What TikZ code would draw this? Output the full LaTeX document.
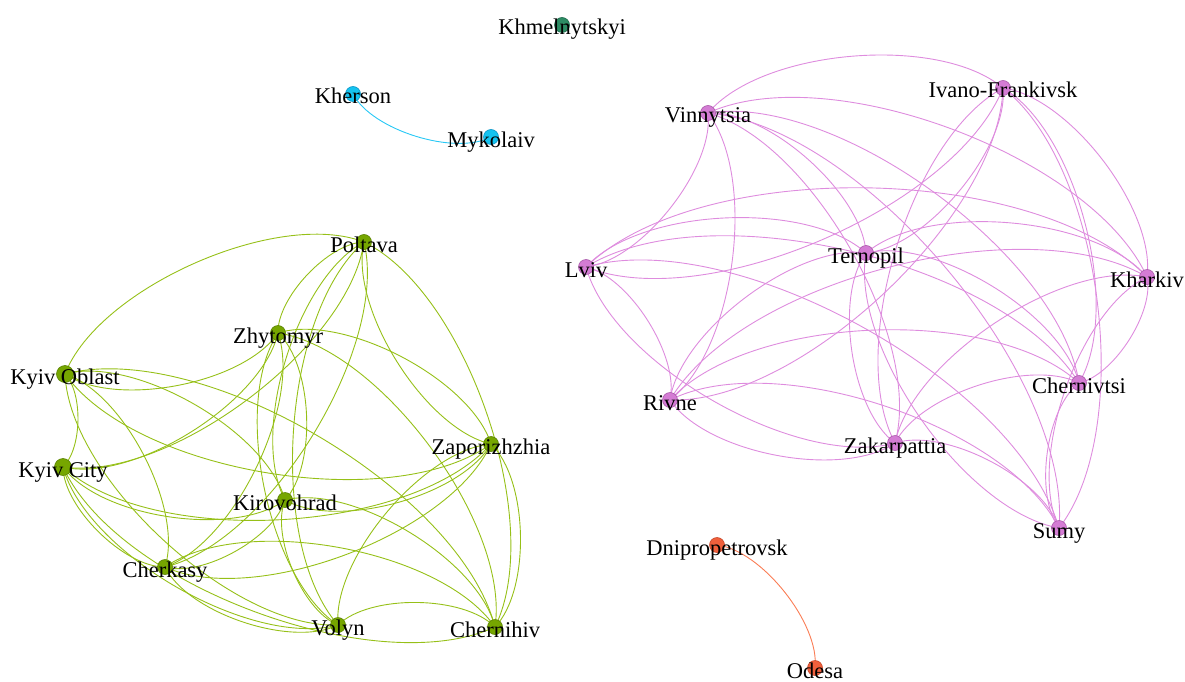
\documentclass[tikz,border=0pt]{standalone}
\usepackage{fontspec}
\setmainfont{Liberation Serif}
\usetikzlibrary{calc}
\pgfdeclarelayer{bg}
\pgfsetlayers{bg,main}
\definecolor{gnode}{RGB}{118,166,0}
\definecolor{gnodeB}{RGB}{90,130,0}
\definecolor{gline}{RGB}{150,192,24}
\definecolor{pnode}{RGB}{212,124,212}
\definecolor{pnodeB}{RGB}{170,90,170}
\definecolor{pline}{RGB}{222,140,222}
\definecolor{cnode}{RGB}{20,195,240}
\definecolor{cnodeB}{RGB}{10,150,200}
\definecolor{cline}{RGB}{40,200,245}
\definecolor{onode}{RGB}{240,96,60}
\definecolor{onodeB}{RGB}{200,70,40}
\definecolor{oline}{RGB}{250,125,85}
\definecolor{tnode}{RGB}{45,140,100}
\definecolor{tnodeB}{RGB}{30,105,75}
\newcommand\gephiedge[3]{\draw[#1] (#2.center) .. controls ($(#2.center)!0.28284!45:(#3.center)$) and ($(#3.center)!0.28284!-45:(#2.center)$) .. (#3.center);}
\begin{document}
\begin{tikzpicture}[x=1pt,y=1pt,
  vtx/.style={circle,inner sep=0pt,minimum size=15pt,line width=0.6pt},
  gv/.style={vtx,fill=gnode,draw=gnodeB},
  pv/.style={vtx,fill=pnode,draw=pnodeB},
  cv/.style={vtx,fill=cnode,draw=cnodeB},
  ov/.style={vtx,fill=onode,draw=onodeB},
  tv/.style={vtx,fill=tnode,draw=tnodeB},
  lbl/.style={anchor=base,inner sep=0pt,font=\fontsize{22.5}{27}\selectfont,text=black},
  ge/.style={gline,line width=0.9pt},
  pe/.style={pline,line width=0.9pt},
  ce/.style={cline,line width=0.9pt},
  oe/.style={oline,line width=0.9pt}]
\useasboundingbox (0,0) rectangle (1185,-682);
% green cluster
\node[gv] (Vo) at (338,-625) {};
\node[gv] (Zh) at (278,-333) {};
\node[gv] (Za) at (491,-444) {};
\node[gv,minimum size=17pt] (KO) at (65,-374) {};
\node[gv] (Ki) at (285,-500) {};
\node[gv] (Po) at (364,-242) {};
\node[gv] (Ck) at (165,-567) {};
\node[gv] (Cn) at (495,-627) {};
\node[gv,minimum size=17pt] (KC) at (63,-467) {};
% purple cluster
\node[pv] (Vi) at (708,-113) {};
\node[pv] (Zk) at (895,-443) {};
\node[pv] (IF) at (1003,-88) {};
\node[pv] (Lv) at (586,-267) {};
\node[pv] (Ri) at (670,-400) {};
\node[pv] (Su) at (1059,-528) {};
\node[pv] (Te) at (866,-253) {};
\node[pv] (Kh) at (1147,-277) {};
\node[pv] (Cv) at (1079,-383) {};
% small clusters
\node[cv] (My) at (491,-137) {};
\node[cv] (Ks) at (353,-94) {};
\node[ov] (Dn) at (717,-545) {};
\node[ov] (Od) at (815,-668) {};
\node[tv] (Km) at (562,-25) {};
% edges
\begin{pgfonlayer}{bg}
\foreach \a [count=\i] in {Vo,Zh,Za,KO,Ki,Po,Ck,Cn,KC}{
  \foreach \b [count=\j] in {Vo,Zh,Za,KO,Ki,Po,Ck,Cn,KC}{
    \ifnum\j>\i \gephiedge{ge}{\a}{\b}\fi
  }
}
\foreach \a [count=\i] in {Vi,Zk,IF,Lv,Ri,Su,Te,Kh,Cv}{
  \foreach \b [count=\j] in {Vi,Zk,IF,Lv,Ri,Su,Te,Kh,Cv}{
    \ifnum\j>\i \gephiedge{pe}{\a}{\b}\fi
  }
}
\gephiedge{ce}{My}{Ks}
\gephiedge{oe}{Dn}{Od}
\end{pgfonlayer}
% labels
\foreach \n/\t in {Vo/Volyn,Zh/Zhytomyr,Za/Zaporizhzhia,KO/Kyiv Oblast,Ki/Kirovohrad,Po/Poltava,Ck/Cherkasy,Cn/Chernihiv,KC/Kyiv City,
  Vi/Vinnytsia,Zk/Zakarpattia,IF/Ivano-Frankivsk,Lv/Lviv,Ri/Rivne,Su/Sumy,Te/Ternopil,Kh/Kharkiv,Cv/Chernivtsi,
  My/Mykolaiv,Ks/Kherson,Dn/Dnipropetrovsk,Od/Odesa,Km/Khmelnytskyi}{
  \node[lbl] (\n-l) at ($(\n.center)+(0,-10)$) {\t};
}
\end{tikzpicture}
\end{document}
